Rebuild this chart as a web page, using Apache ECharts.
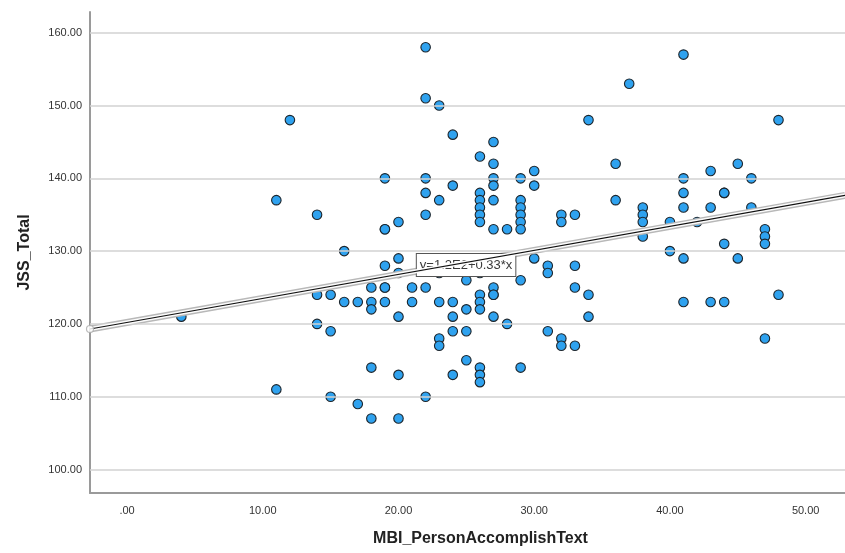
<!DOCTYPE html>
<html>
<head>
<meta charset="utf-8">
<script src="https://cdn.jsdelivr.net/npm/echarts@6/dist/echarts.min.js"></script>
<style>
html,body{margin:0;padding:0;background:#fff;}
#chart{width:845px;height:553px;}
</style>
</head>
<body>
<div id="chart"></div>
<script>
// Data
const mbiValues = [4,11,11,12,14,14,14,15,15,15,16,16,17,17,18,18,18,18,18,
  19,19,19,19,19,19,19,20,20,20,20,20,20,21,21,
  22,22,22,22,22,22,22,23,23,23,23,23,23,24,24,24,24,24,24,25,25,25,25,
  26,26,26,26,26,26,26,26,26,26,26,26,26,
  27,27,27,27,27,27,27,27,27,27,28,28,
  29,29,29,29,29,29,29,29,30,30,30,31,31,31,32,32,32,32,33,33,33,33,
  34,34,34,36,36,37,38,38,38,38,40,40,41,41,41,41,41,41,42,43,43,43,
  44,44,44,44,45,45,46,46,47,47,47,47,48,48];
const jssValues = [121,137,111,148,135,124,120,124,119,110,130,123,123,109,125,123,122,114,107,
  140,133,133,128,125,125,123,134,129,127,121,113,107,125,123,
  158,151,140,138,135,125,110,150,137,127,123,118,117,146,139,123,121,119,113,126,122,119,115,
  143,138,137,136,135,134,127,124,123,122,114,113,112,
  145,142,140,139,137,133,125,124,124,121,133,120,
  140,137,136,135,134,133,126,114,141,139,129,128,127,119,135,134,118,117,135,128,125,117,
  148,124,121,142,137,153,136,135,134,132,134,130,157,140,138,136,129,123,134,141,136,123,
  138,138,131,123,142,129,140,136,133,132,131,118,148,124];
const yTicks = [100,110,120,130,140,150,160];
const xTicks = [0,10,20,30,40,50];
const fitIntercept = 120.2;
const fitSlope = 0.33;
const fitLabel = 'y=1.2E2+0.33*x';
const xAxisTitle = 'MBI_PersonAccomplishText';
const yAxisTitle = 'JSS_Total';

const X_MIN = -2.73, X_MAX = 52.9, Y_MIN = 96.77, Y_MAX = 162.85;

const points = mbiValues.map((x, i) => [x, jssValues[i]]);
const fitLine = [[X_MIN, fitIntercept + fitSlope * X_MIN], [X_MAX, fitIntercept + fitSlope * X_MAX]];
const labelX = 24.98;
const labelY = 128.1;

const fmt = v => v === 0 ? '.00' : v.toFixed(2);
const font = 'Liberation Sans, Arial, sans-serif';

const chart = echarts.init(document.getElementById('chart'), null, {renderer: 'canvas'});
chart.setOption({
  animation: false,
  backgroundColor: '#ffffff',
  grid: {left: 90, right: 0, top: 12, bottom: 60, containLabel: false},
  xAxis: {
    type: 'value', min: X_MIN, max: X_MAX,
    name: xAxisTitle, nameLocation: 'middle', nameGap: 38,
    nameTextStyle: {fontFamily: font, fontSize: 16, fontWeight: 'bold', color: '#222', padding: [0, 0, 0, 26]},
    axisLine: {show: true, onZero: false, lineStyle: {color: '#9a9a9a', width: 2}},
    axisTick: {show: false},
    splitLine: {show: false},
    axisLabel: {
      showMinLabel: false, showMaxLabel: false, margin: 12,
      fontFamily: font, fontSize: 11, color: '#333',
      formatter: v => xTicks.includes(Math.round(v * 100) / 100) ? fmt(v) : ''
    }
  },
  yAxis: {
    type: 'value', min: Y_MIN, max: Y_MAX,
    name: yAxisTitle, nameLocation: 'middle', nameGap: 57,
    nameTextStyle: {fontFamily: font, fontSize: 16, fontWeight: 'bold', color: '#222'},
    axisLine: {show: true, onZero: false, lineStyle: {color: '#9a9a9a', width: 2}},
    axisTick: {show: false},
    splitLine: {show: false},
    axisLabel: {
      showMinLabel: false, showMaxLabel: false, margin: 8,
      fontFamily: font, fontSize: 11, color: '#333',
      formatter: v => yTicks.includes(Math.round(v * 100) / 100) ? fmt(v) : ''
    }
  },
  series: [
    {
      type: 'line', data: [], silent: true, z: 1,
      markLine: {
        silent: true, symbol: 'none', label: {show: false},
        lineStyle: {color: '#d2d2d2', width: 1.5, type: 'solid'},
        data: yTicks.map(v => ({yAxis: v}))
      }
    },
    {
      type: 'scatter', data: points, z: 2,
      symbol: 'circle', symbolSize: 9.5,
      itemStyle: {color: '#2fa2ef', borderColor: '#1c252c', borderWidth: 1.1, opacity: 1}
    },
    {
      type: 'scatter', data: [], z: 3, silent: true,
      markPoint: {
        symbol: 'rect', symbolSize: [1, 1], silent: true,
        itemStyle: {color: 'rgba(0,0,0,0)'},
        label: {
          show: true, position: 'inside', formatter: fitLabel,
          fontFamily: font, fontSize: 13, color: '#3a3a3a',
          backgroundColor: '#ffffff', borderColor: '#555', borderWidth: 1,
          padding: [5, 3, 4, 3]
        },
        data: [{coord: [labelX, labelY]}]
      }
    },
    {
      type: 'line', data: fitLine, z: 4, silent: true,
      symbol: 'none', lineStyle: {color: '#b8b8b8', width: 7}
    },
    {
      type: 'line', data: fitLine, z: 5, silent: true,
      symbol: 'none', lineStyle: {color: '#ffffff', width: 4.2, opacity: 0.95}
    },
    {
      type: 'line', data: fitLine, z: 6, silent: true,
      symbol: 'none', lineStyle: {color: '#111111', width: 1.2}
    },
    {
      type: 'scatter', data: [fitLine[0]], z: 7, silent: true,
      symbol: 'circle', symbolSize: 7,
      itemStyle: {color: '#ffffff', borderColor: '#aaaaaa', borderWidth: 1.2}
    }
  ]
});
</script>
</body>
</html>
